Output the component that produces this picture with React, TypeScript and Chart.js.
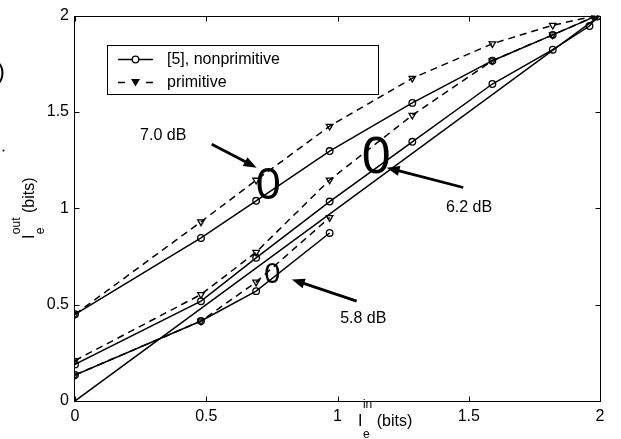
import React, { useEffect, useRef } from "react";
import { Chart, registerables } from "chart.js";

Chart.register(...registerables);

// ---------- axis ticks ----------
const xTickValues = [0, 0.5, 1, 1.5, 2];
const xTickLabels = ["0", "0.5", "1", "1.5", "2"];
const yTickValues = [0, 0.5, 1, 1.5, 2];
const yTickLabels = ["0", "0.5", "1", "1.5", "2"];

// ---------- data ----------
const diagX = [0, 2];
const diagY = [0, 2];

// 7.0 dB
const x70 = [0, 0.48, 0.69, 0.97, 1.285, 1.59, 1.82, 1.98];
const y70Non = [0.45, 0.846, 1.039, 1.297, 1.547, 1.766, 1.9, 1.995];
const y70Prim = [0.45, 0.93, 1.146, 1.426, 1.675, 1.854, 1.95, 1.998];

// 6.2 dB
const x62Non = [0, 0.48, 0.69, 0.97, 1.285, 1.59, 1.82, 1.96, 1.99];
const y62Non = [0.19, 0.518, 0.743, 1.035, 1.345, 1.645, 1.823, 1.946, 1.995];
const x62Prim = [0, 0.48, 0.69, 0.97, 1.285, 1.59, 1.82, 1.98];
const y62Prim = [0.21, 0.553, 0.772, 1.147, 1.483, 1.766, 1.9, 1.995];

// 5.8 dB
const x58 = [0, 0.48, 0.69, 0.97];
const y58Non = [0.135, 0.415, 0.57, 0.872];
const y58Prim = [0.135, 0.415, 0.617, 0.952];

const legendLabels = ["[5], nonprimitive", "primitive"];

// annotations (data coordinates)
const annoText = ["7.0 dB", "6.2 dB", "5.8 dB"];
const annoTextX = [0.248, 1.413, 1.01];
const annoTextY = [1.375, 1.003, 0.429];
const arrowFromX = [0.521, 1.479, 1.073];
const arrowFromY = [1.332, 1.108, 0.518];
const arrowToX = [0.692, 1.187, 0.826];
const arrowToY = [1.211, 1.211, 0.631];
const ovalX = [0.736, 1.147, 0.752];
const ovalY = [1.133, 1.28, 0.667];
const ovalFont = [45, 52, 29];

const FONT = "'Liberation Sans', Arial, Helvetica, sans-serif";

const zip = (xs: number[], ys: number[]) => xs.map((x, i) => ({ x, y: ys[i] }));

const seriesStyle = (prim: boolean) => ({
  borderColor: "#000",
  borderWidth: 1.5,
  borderDash: prim ? [7, 5] : [],
  pointStyle: prim ? "triangle" : "circle",
  rotation: prim ? 180 : 0,
  pointRadius: prim ? 3.8 : 3.3,
  pointBorderWidth: 1.3,
  pointBorderColor: "#000",
  pointBackgroundColor: "rgba(0,0,0,0)",
  showLine: true,
  fill: false,
  tension: 0,
});

const overlay = {
  id: "overlay",
  afterDraw(chart: any) {
    const { ctx, chartArea: ca, scales } = chart;
    const px = (v: number) => scales.x.getPixelForValue(v);
    const py = (v: number) => scales.y.getPixelForValue(v);
    ctx.save();
    ctx.strokeStyle = "#000";
    ctx.fillStyle = "#000";
    ctx.setLineDash([]);

    // frame
    const L = Math.round(ca.left) - 0.5;
    const R = Math.round(ca.right) + 0.5;
    const T = Math.round(ca.top) + 0.5;
    const B = Math.round(ca.bottom) + 0.5;
    ctx.lineWidth = 1;
    ctx.strokeRect(L, T, R - L, B - T);
    // inward ticks
    const tl = 5;
    ctx.beginPath();
    xTickValues.forEach((v) => {
      const x = Math.round(px(v)) + 0.5;
      ctx.moveTo(x, B);
      ctx.lineTo(x, B - tl);
      ctx.moveTo(x, T);
      ctx.lineTo(x, T + tl);
    });
    yTickValues.forEach((v) => {
      const y = Math.round(py(v)) + 0.5;
      ctx.moveTo(L, y);
      ctx.lineTo(L + tl, y);
      ctx.moveTo(R, y);
      ctx.lineTo(R - tl, y);
    });
    ctx.stroke();

    // legend
    const lx = Math.round(ca.left) + 32;
    const ly = Math.round(ca.top) + 29;
    const lw = 272;
    const lh = 50;
    ctx.fillStyle = "#fff";
    ctx.fillRect(lx, ly, lw, lh);
    ctx.strokeStyle = "#000";
    ctx.lineWidth = 1;
    ctx.strokeRect(lx + 0.5, ly + 0.5, lw - 1, lh - 1);
    ctx.fillStyle = "#000";
    const r1 = ly + 14.5;
    const r2 = ly + 37.5;
    ctx.lineWidth = 1.5;
    ctx.beginPath();
    ctx.moveTo(lx + 11, r1);
    ctx.lineTo(lx + 46, r1);
    ctx.stroke();
    ctx.beginPath();
    ctx.fillStyle = "#fff";
    ctx.arc(lx + 28.5, r1, 3.3, 0, Math.PI * 2);
    ctx.fill();
    ctx.lineWidth = 1.3;
    ctx.stroke();
    ctx.lineWidth = 1.5;
    ctx.beginPath();
    ctx.moveTo(lx + 11, r2);
    ctx.lineTo(lx + 18, r2);
    ctx.moveTo(lx + 39, r2);
    ctx.lineTo(lx + 46, r2);
    ctx.stroke();
    ctx.fillStyle = "#000";
    ctx.beginPath();
    ctx.moveTo(lx + 24, r2 - 3.5);
    ctx.lineTo(lx + 33, r2 - 3.5);
    ctx.lineTo(lx + 28.5, r2 + 4);
    ctx.closePath();
    ctx.fill();
    ctx.font = `16px ${FONT}`;
    ctx.textAlign = "left";
    ctx.textBaseline = "middle";
    ctx.fillText(legendLabels[0], lx + 60, r1);
    ctx.fillText(legendLabels[1], lx + 60, r2);

    // annotations
    for (let i = 0; i < annoText.length; i++) {
      ctx.font = `16px ${FONT}`;
      ctx.textAlign = "left";
      ctx.textBaseline = "middle";
      ctx.fillText(annoText[i], px(annoTextX[i]), py(annoTextY[i]));
      // arrow
      const x1 = px(arrowFromX[i]);
      const y1 = py(arrowFromY[i]);
      const x2 = px(arrowToX[i]);
      const y2 = py(arrowToY[i]);
      const a = Math.atan2(y2 - y1, x2 - x1);
      const hl = 13;
      const hw = 5;
      const bx = x2 - hl * Math.cos(a);
      const by = y2 - hl * Math.sin(a);
      ctx.lineWidth = 2.8;
      ctx.beginPath();
      ctx.moveTo(x1, y1);
      ctx.lineTo(bx + 2 * Math.cos(a), by + 2 * Math.sin(a));
      ctx.stroke();
      ctx.beginPath();
      ctx.moveTo(x2, y2);
      ctx.lineTo(bx + hw * Math.sin(a), by - hw * Math.cos(a));
      ctx.lineTo(bx - hw * Math.sin(a), by + hw * Math.cos(a));
      ctx.closePath();
      ctx.fill();
      // oval "0"
      ctx.font = `${ovalFont[i]}px ${FONT}`;
      ctx.textAlign = "center";
      ctx.textBaseline = "alphabetic";
      ctx.fillText("0", px(ovalX[i]), py(ovalY[i]) + ovalFont[i] * 0.358);
    }

    // x title
    const xt = px(1.078);
    const xb = Math.round(ca.bottom) + 25;
    ctx.textAlign = "left";
    ctx.textBaseline = "alphabetic";
    ctx.font = `16px ${FONT}`;
    ctx.fillText("I", xt, xb);
    const w = ctx.measureText("I").width;
    ctx.font = `12px ${FONT}`;
    ctx.fillText("in", xt + w + 0.5, xb - 18);
    ctx.fillText("e", xt + w + 0.5, xb + 12);
    const sw = Math.max(ctx.measureText("in").width, ctx.measureText("e").width);
    ctx.font = `16px ${FONT}`;
    ctx.fillText(" (bits)", xt + w + 0.5 + sw, xb);

    // y title (rotated)
    ctx.save();
    const yc = (ca.top + ca.bottom) / 2;
    const ybl = Math.round(ca.left) - 41;
    ctx.translate(ybl, yc);
    ctx.rotate(-Math.PI / 2);
    ctx.font = `16px ${FONT}`;
    const wI = ctx.measureText("I").width;
    ctx.font = `12px ${FONT}`;
    const wS = Math.max(ctx.measureText("out").width, ctx.measureText("e").width);
    ctx.font = `16px ${FONT}`;
    const wB = ctx.measureText(" (bits)").width;
    const total = wI + 0.5 + wS + wB;
    let sx = -total / 2;
    ctx.fillText("I", sx, 0);
    sx += wI + 0.5;
    ctx.font = `12px ${FONT}`;
    ctx.fillText("out", sx, -14);
    ctx.fillText("e", sx, 10);
    sx += wS;
    ctx.font = `16px ${FONT}`;
    ctx.fillText(" (bits)", sx, 0);
    ctx.restore();

    // edge artefacts seen at the left border
    ctx.font = `24px ${FONT}`;
    ctx.textAlign = "left";
    ctx.textBaseline = "middle";
    ctx.fillText(")", -3, 72);
    ctx.beginPath();
    ctx.arc(3.5, 150.5, 1, 0, Math.PI * 2);
    ctx.fill();

    ctx.restore();
  },
};

export default function App() {
  const ref = useRef<HTMLCanvasElement | null>(null);
  useEffect(() => {
    if (!ref.current) return;
    const tickFont = { family: FONT, size: 16 };
    const chart = new Chart(ref.current, {
      type: "scatter",
      data: {
        datasets: [
          {
            data: zip(diagX, diagY),
            borderColor: "#000",
            borderWidth: 1.5,
            pointRadius: 0,
            showLine: true,
            fill: false,
          } as any,
          { data: zip(x70, y70Non), ...seriesStyle(false) } as any,
          { data: zip(x70, y70Prim), ...seriesStyle(true) } as any,
          { data: zip(x62Non, y62Non), ...seriesStyle(false) } as any,
          { data: zip(x62Prim, y62Prim), ...seriesStyle(true) } as any,
          { data: zip(x58, y58Non), ...seriesStyle(false) } as any,
          { data: zip(x58, y58Prim), ...seriesStyle(true) } as any,
        ],
      },
      options: {
        animation: false,
        responsive: false,
        devicePixelRatio: 1,
        layout: { padding: { left: 0, top: 14, right: 21, bottom: 0 } },
        plugins: { legend: { display: false }, tooltip: { enabled: false } },
        scales: {
          x: {
            type: "linear",
            min: 0,
            max: 2,
            grid: { display: false, drawTicks: false },
            border: { display: false },
            afterBuildTicks: (s: any) => {
              s.ticks = xTickValues.map((v) => ({ value: v }));
            },
            afterFit: (s: any) => {
              s.height = 38;
            },
            ticks: {
              font: tickFont,
              color: "#000",
              padding: 6,
              maxRotation: 0,
              autoSkip: false,
              callback: (v: any) => xTickLabels[xTickValues.indexOf(Number(v))] ?? "",
            },
          },
          y: {
            type: "linear",
            min: 0,
            max: 2,
            grid: { display: false, drawTicks: false },
            border: { display: false },
            afterBuildTicks: (s: any) => {
              s.ticks = yTickValues.map((v) => ({ value: v }));
            },
            afterFit: (s: any) => {
              s.width = 75;
            },
            ticks: {
              font: tickFont,
              color: "#000",
              padding: 6,
              autoSkip: false,
              callback: (v: any) => yTickLabels[yTickValues.indexOf(Number(v))] ?? "",
            },
          },
        },
      },
      plugins: [overlay],
    } as any);
    return () => chart.destroy();
  }, []);
  return (
    <div style={{ position: "absolute", left: 0, top: 0, width: 621, height: 439, background: "#fff" }}>
      <canvas ref={ref} width={621} height={439} style={{ display: "block" }} />
    </div>
  );
}
